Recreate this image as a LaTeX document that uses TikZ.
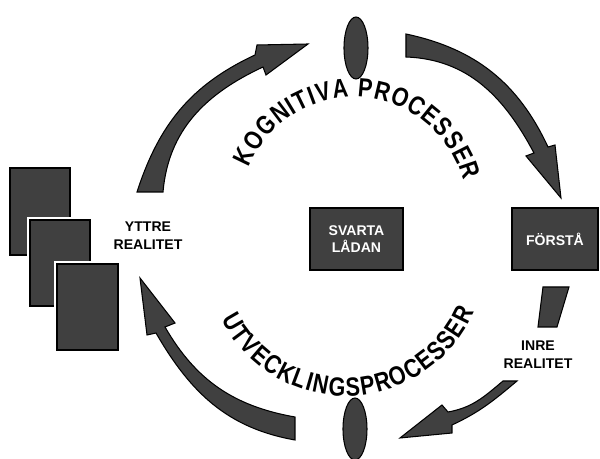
\documentclass[tikz,border=0pt]{standalone}
\usepackage{fontspec}
\setmainfont{Liberation Sans}
\newfontfamily\arcfont{Liberation Sans}[FakeStretch=0.82]
\usetikzlibrary{shapes.geometric,decorations.text}
\definecolor{boxgray}{gray}{0.25}
\newcommand\arcstyle{\arcfont\bfseries\fontsize{15}{18}\selectfont}
\tikzstyle{band}=[fill=boxgray, draw=black, line width=0.6pt]
\tikzstyle{card}=[fill=boxgray, draw=black, line width=0.6pt, preaction={draw=white, line width=3.4pt}]
\tikzstyle{blackbox}=[rectangle, fill=boxgray, draw=black, line width=0.6pt, minimum height=1.24cm, text=white, font=\bfseries\fontsize{8}{9.5}\selectfont, align=center, inner sep=0pt]
\tikzstyle{eye}=[ellipse, fill=boxgray, draw=black, line width=0.6pt, minimum width=0.48cm, minimum height=1.24cm, inner sep=0pt]
\tikzstyle{realm}=[font=\bfseries\fontsize{8}{10.3}\selectfont, align=center, inner sep=0pt]

\begin{document}
\begin{tikzpicture}[x=0.02cm, y=0.02cm]
\useasboundingbox (0,0) rectangle (600,459);
% Cards
	\draw[card] (10,204) rectangle (70,291);
	\draw[card] (30,153) rectangle (90,239);
	\draw[card] (57,109) rectangle (118,195);
% Labels and boxes
	\node[realm] (yttre) at (148,223) {YTTRE\\REALITET};
	\node[realm] (inre) at (538,104) {INRE\\REALITET};
	\node[blackbox, minimum width=1.86cm] (svarta) at (356.5,220) {SVARTA\\LÅDAN};
	\node[blackbox, minimum width=1.72cm] (forsta) at (555,220) {FÖRSTÅ};
	\node[eye] (topeye) at (356,411) {};
	\node[eye] (boteye) at (355,30) {};
% Arrows
	\filldraw[band] (137,267) to[out=72, in=205] (255,404) -- (257,414) -- (308,415)
		-- (266,384) -- (263,392) to[out=205, in=85] (163,267) -- cycle;
	\filldraw[band] (406,425) to[out=-12, in=115] (548,312) -- (555,314) -- (561,261)
		-- (526,303) -- (534,306) to[out=118, in=-2] (406,402) -- cycle;
	\filldraw[band] (543,172) -- (569,172) -- (557,132) -- (538,132) -- cycle;
	\filldraw[band] (503,78) to[out=220, in=10] (448,47) -- (442,54) -- (400,21)
		-- (452,26) -- (452,34) to[out=25, in=220] (517,78) -- cycle;
	\filldraw[band] (295,19) to[out=170, in=-60] (156,126) -- (147,124) -- (140,181)
		-- (175,136) -- (165,132) to[out=-60, in=170] (295,42) -- cycle;
% Arc texts
	\path[decorate, decoration={text along path, text align={fit to path},
		text={|\arcstyle|KOGNITIVA PROCESSER}}]
		(354,249) ++(158:113) arc[start angle=158, end angle=15, radius=113];
	\path[decorate, decoration={text along path, text align={fit to path},
		text={|\arcstyle|UTVECKLINGSPROCESSER}}]
		(346,203) ++(207:140) arc[start angle=207, end angle=336.5, radius=140];
\end{tikzpicture}
\end{document}
